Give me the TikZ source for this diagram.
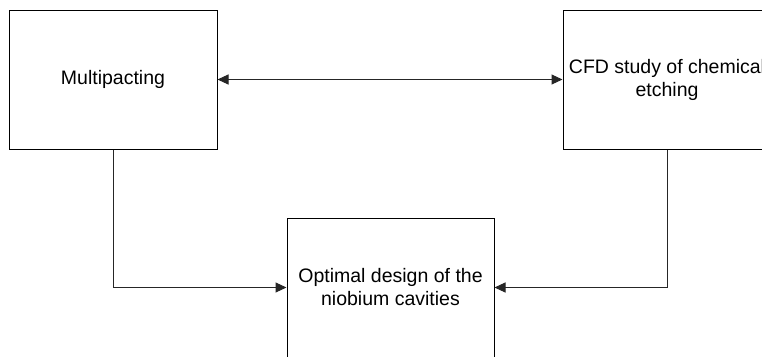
\documentclass[tikz,border=0pt]{standalone}
\usepackage{fontspec}
\setmainfont{Liberation Sans}
\usetikzlibrary{arrows.meta}
\tikzset{
  blockbox/.style={draw=black, line width=1pt, minimum width=208pt, minimum height=139pt,
    inner sep=0pt, align=center, font=\fontsize{19.5pt}{23pt}\selectfont},
  conn/.style={draw=black!85, line width=1pt},
  tip/.style={-{Triangle[length=11pt,width=10pt]}},
  dtip/.style={{Triangle[length=11pt,width=10pt]}-{Triangle[length=11pt,width=10pt]}}
}
\begin{document}
\begin{tikzpicture}[x=1pt,y=-1pt]
\useasboundingbox (0,0) rectangle (762,356);
\node[blockbox] (L) at (113,79.5) {Multipacting};
\node[blockbox] (R) at (667,79.5) {CFD study of chemical\\etching};
\node[blockbox, minimum width=207pt] (B) at (390.5,287.5) {Optimal design of the\\niobium cavities};
\draw[conn, dtip] (L.east) -- (R.west);
\draw[conn, tip] (L.south) |- (B.west);
\draw[conn, tip] (R.south) |- (B.east);
\end{tikzpicture}
\end{document}
